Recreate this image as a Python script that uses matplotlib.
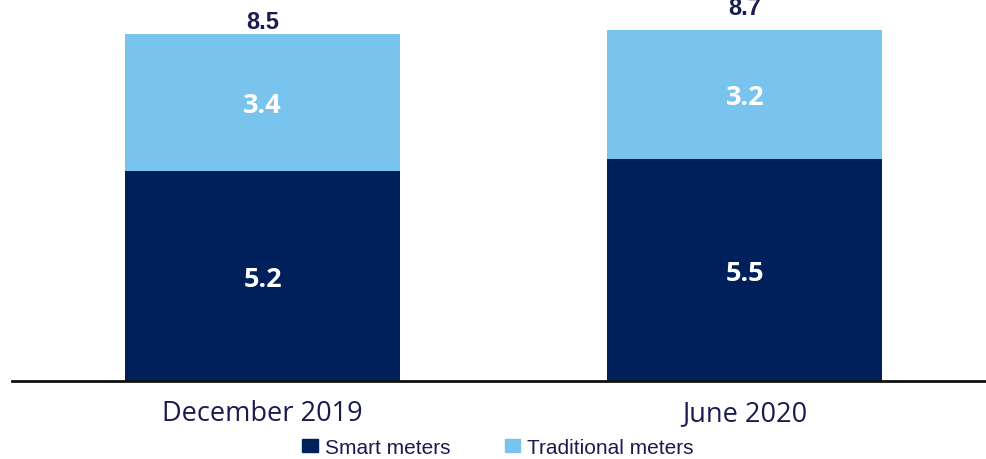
import matplotlib

matplotlib.use("Agg")
import matplotlib.pyplot as plt  # noqa: E402
import matplotlib.patches as mpatches  # noqa: E402

categories = ["December 2019", "June 2020"]
smart = [5.2, 5.5]
traditional = [3.4, 3.2]
total_labels = ["8.5", "8.7"]

navy = "#00205B"
light = "#79C4EE"
text_navy = "#1B1B4F"

fig = plt.figure(figsize=(9.86, 4.6), dpi=100)
ax = fig.add_axes([0.012, 0.1696, 0.988, 0.8304])

x = list(range(len(categories)))
ax.bar(x, smart, width=0.57, color=navy, zorder=2)
ax.bar(x, traditional, width=0.57, bottom=smart, color=light, zorder=2)

# the two total labels sit at different heights in the original
label_offsets = [3.8, 11.0]
for xi, s, t, lab, off in zip(x, smart, traditional, total_labels, label_offsets):
    ax.text(xi, s / 2, f"{s:.1f}", ha="center", va="center_baseline", color="white",
            fontsize=19.5, fontweight="bold", family="Open Sans")
    ax.text(xi, s + t / 2, f"{t:.1f}", ha="center", va="center_baseline", color="white",
            fontsize=19.5, fontweight="bold", family="Open Sans")
    ax.annotate(lab, (xi, s + t), xytext=(0, off), textcoords="offset points",
                ha="center", va="baseline", color=text_navy, fontsize=17,
                fontweight="bold", family="Liberation Sans", annotation_clip=False)

ax.set_xlim(-0.52, 1.5)
ax.set_ylim(0, 9.46)
ax.set_xticks(x)
ax.set_xticklabels(categories, fontsize=19.5, family="Open Sans", color=text_navy)
ax.tick_params(axis="x", length=0, pad=13)
ax.set_yticks([])
for side in ["top", "right", "left"]:
    ax.spines[side].set_visible(False)
ax.spines["bottom"].set_linewidth(2)
ax.spines["bottom"].set_color("#111111")

handles = [
    mpatches.Patch(color=navy, label="Smart meters"),
    mpatches.Patch(color=light, label="Traditional meters"),
]
leg = fig.legend(handles=handles, loc="center", bbox_to_anchor=(0.505, 0.026), ncol=2,
                 frameon=False, prop={"family": "Liberation Sans", "size": 15},
                 handletextpad=0.35, columnspacing=2.6, handlelength=0.75,
                 handleheight=0.6)
for t in leg.get_texts():
    t.set_color(text_navy)

fig.savefig("out.png", dpi=100)
